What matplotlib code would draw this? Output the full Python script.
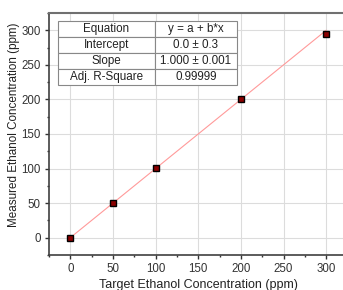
import matplotlib
matplotlib.use("Agg")
import matplotlib.pyplot as plt
import numpy as np

plt.rcParams['font.family'] = ['Liberation Sans', 'DejaVu Sans']

target = [0, 50, 100, 200, 300]
measured = [0, 50, 101, 200, 294]
fit_intercept = 0.0
fit_slope = 1.000
table_rows = [["Equation", "y = a + b*x"],
              ["Intercept", "0.0 \u00b1 0.3"],
              ["Slope", "1.000 \u00b1 0.001"],
              ["Adj. R-Square", "0.99999"]]

fig = plt.figure(figsize=(3.43, 2.90), dpi=100)
ax = fig.add_axes([0.143, 0.121, 0.870, 0.834])

fx = np.array([min(target), max(target)])
ax.plot(fx, fit_intercept + fit_slope * fx, color='#ff9a9a', lw=0.8, zorder=2)
ax.plot(target, measured, ls='none', marker='s', ms=4.2, mfc='#8b0000', mec='black', mew=1.0, zorder=3)

ax.set_xlim(-25, 325)
ax.set_ylim(-25, 325)
ax.set_xticks(np.arange(0, 301, 50))
ax.set_yticks(np.arange(0, 301, 50))
ax.set_xticks(np.arange(-25, 326, 25), minor=True)
ax.set_yticks(np.arange(-25, 326, 25), minor=True)
ax.grid(True, which='major', color='#dcdcdc', lw=0.8)
ax.set_axisbelow(True)
ax.tick_params(which='both', direction='out', labelsize=8.3, colors='#333333', width=1.0)
ax.tick_params(which='major', length=3, pad=3)
ax.tick_params(which='minor', length=1.5)
for s in ['left', 'bottom']:
    ax.spines[s].set_color('#404040')
    ax.spines[s].set_linewidth(1.2)
ax.spines['top'].set_color('#707070')
ax.spines['top'].set_linewidth(1.5)
ax.spines['right'].set_visible(False)
ax.set_xlabel('Target Ethanol Concentration (ppm)', fontsize=9, color='#222222', labelpad=3)
ax.set_ylabel('Measured Ethanol Concentration (ppm)', fontsize=8.4, color='#222222')
ax.yaxis.set_label_coords(-0.098, 0.537)

tbl = ax.table(cellText=table_rows, cellLoc='center', bbox=[0.030, 0.702, 0.600, 0.265],
               colWidths=[0.54, 0.46])
tbl.auto_set_font_size(False)
tbl.set_fontsize(8.4)
for (r, c), cell in tbl.get_celld().items():
    cell.set_edgecolor('#888888')
    cell.set_linewidth(0.8)
    cell.set_facecolor('white')
    cell.get_text().set_color('#222222')
tbl.set_zorder(5)

fig.savefig('out.png', dpi=100)
